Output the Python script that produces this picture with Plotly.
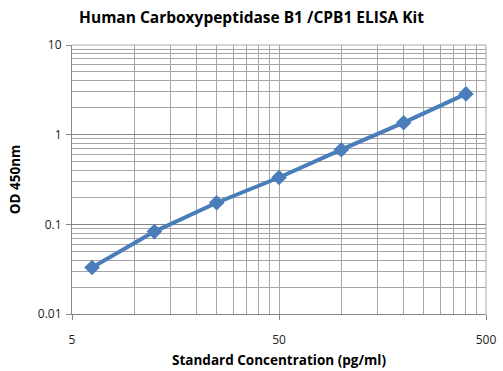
import plotly.graph_objects as go

concentration = [6.25, 12.5, 25, 50, 100, 200, 400]
od450 = [0.033, 0.083, 0.174, 0.333, 0.68, 1.36, 2.85]

x_major = [5, 50, 500]
x_labels = ["5", "50", "500"]
x_minor = [5 * k for k in range(2, 10)] + [50 * k for k in range(2, 10)]
y_major = [0.01, 0.1, 1, 10]
y_labels = ["0.01", "0.1", "1", "10"]
y_minor = [d * k for d in (0.01, 0.1, 1) for k in range(2, 10)]

fig = go.Figure()
fig.add_trace(go.Scatter(
    x=concentration, y=od450, mode="lines+markers",
    line=dict(color="#4a7ebb", width=4),
    marker=dict(symbol="diamond", size=12, color="#4a7ebb"),
    showlegend=False,
))

font_family = "Open Sans, Liberation Sans, sans-serif"
fig.update_layout(
    width=503, height=371,
    margin=dict(l=72, r=17, t=45, b=57, autoexpand=False),
    paper_bgcolor="white", plot_bgcolor="white",
    title=dict(text="<b>Human Carboxypeptidase B1 /CPB1 ELISA Kit</b>",
               x=0.5, xanchor="center", y=0.952, yanchor="middle",
               font=dict(family=font_family, size=15.5, color="black"), automargin=False),
    font=dict(family=font_family, size=12, color="#222"),
)
fig.update_xaxes(
    type="log", range=[0.69897, 2.69897], automargin=False,
    tickmode="array", tickvals=x_major, ticktext=x_labels,
    showgrid=True, gridcolor="#a6a6a6", gridwidth=1,
    showline=True, linecolor="#868686", linewidth=1, mirror=False,
    ticks="outside", ticklen=5, tickcolor="#868686", ticklabelstandoff=10,
    minor=dict(tickmode="array", tickvals=x_minor, showgrid=True,
               gridcolor="#a6a6a6", gridwidth=1, ticks=""),
    title=dict(text="<b>Standard Concentration (pg/ml)</b>",
               font=dict(family=font_family, size=13.5, color="black"), standoff=8),
    zeroline=False,
)
fig.update_yaxes(
    type="log", range=[-2, 1], automargin=False,
    tickmode="array", tickvals=y_major, ticktext=y_labels,
    showgrid=True, gridcolor="#868686", gridwidth=1,
    showline=True, linecolor="#868686", linewidth=1,
    ticks="outside", ticklen=5, tickcolor="#868686", ticklabelstandoff=2,
    minor=dict(tickmode="array", tickvals=y_minor, showgrid=True,
               gridcolor="#a6a6a6", gridwidth=1, ticks=""),
    title=dict(text="<b>OD 450nm</b>",
               font=dict(family=font_family, size=13.5, color="black"), standoff=14),
    zeroline=False,
)
fig.add_shape(type="line", xref="paper", yref="paper", x0=1, x1=1, y0=0, y1=1,
              line=dict(color="#a6a6a6", width=1))
fig.add_shape(type="line", xref="paper", yref="paper", x0=0, x1=1, y0=1, y1=1,
              line=dict(color="#a6a6a6", width=1))

fig.write_html("out.html", config={"displayModeBar": False},
               post_script="document.body.style.margin='0';document.body.style.overflow='hidden';")
